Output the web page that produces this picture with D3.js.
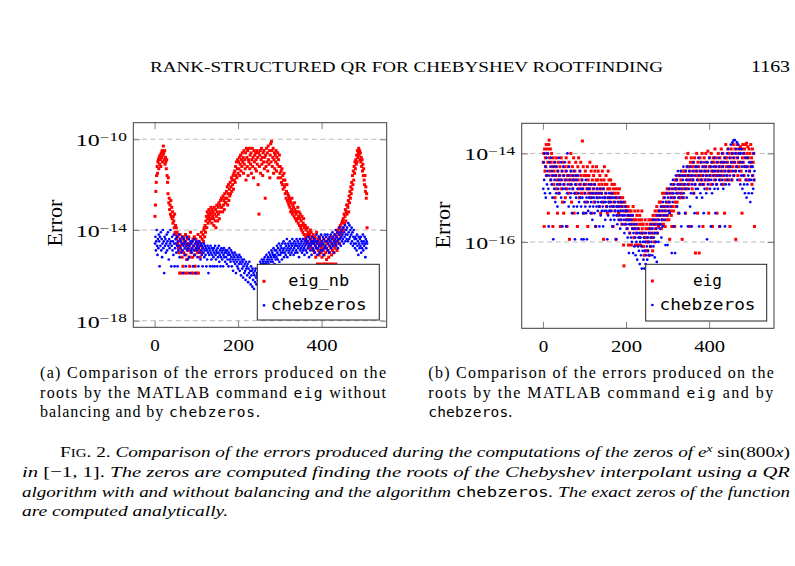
<!DOCTYPE html>
<html><head><meta charset="utf-8">
<script src="https://cdn.jsdelivr.net/npm/d3@7"></script>
<style>body{margin:0;background:#fff}svg{display:block}</style>
</head><body><svg id="c" width="795" height="566"></svg>
<script>
// ---- data (errors given as log10 exponents, index = root number 1..509) ----
const xTicks = [0, 200, 400];
const yTicksA = [-10, -14, -18];
const yTicksB = [-14, -16];
const legendA = ["eig_nb", "chebzeros"];
const legendB = ["eig", "chebzeros"];

const eigNb = [
-13.4,-12.9,-12.3,-11.9,-11.6,-11.2,-11.5,-11.0,-10.9,-11.3,
-10.8,-11.1,-10.7,-10.9,-11.2,-10.6,-10.8,-10.5,-11.0,-10.7,
-10.3,-10.6,-10.9,-10.5,-11.1,-10.8,-11.0,-11.3,-10.9,-11.6,
-11.9,-12.4,-11.7,-12.8,-12.6,-13.1,-12.9,-13.3,-12.7,-13.4,
-13.0,-13.5,-13.2,-13.7,-13.4,-13.6,-13.9,-13.3,-14.1,-13.8,
-14.2,-13.9,-14.4,-14.1,-14.6,-14.3,-14.8,-15.0,-14.5,-15.9,
-14.2,-14.7,-15.9,-14.4,-14.9,-15.2,-14.6,-15.6,-14.3,-15.0,
-14.5,-15.9,-14.8,-14.2,-15.1,-14.6,-15.3,-14.4,-15.9,-14.7,
-14.9,-14.3,-15.2,-15.6,-14.6,-14.1,-15.0,-15.9,-14.8,-14.5,
-15.2,-14.4,-15.9,-14.7,-14.3,-15.1,-15.6,-14.9,-14.4,-15.9,
-14.6,-14.8,-15.0,-14.2,-15.9,-14.5,-14.9,-14.7,-15.2,-14.3,
-14.6,-14.1,-15.0,-14.4,-14.8,-14.2,-14.5,-14.0,-13.9,-14.3,
-13.8,-14.1,-13.6,-13.4,-13.9,-13.2,-13.5,-13.7,-13.3,-13.1,
-13.4,-13.6,-13.2,-13.5,-13.0,-13.3,-13.7,-13.1,-13.4,-13.2,
-13.5,-13.8,-13.0,-13.3,-13.6,-13.1,-13.9,-13.4,-12.9,-13.2,
-13.6,-13.0,-13.3,-12.8,-13.5,-12.9,-13.2,-12.7,-13.0,-12.6,
-13.0,-12.6,-13.2,-12.5,-12.9,-12.7,-13.1,-12.4,-12.8,-12.6,
-12.8,-12.3,-12.6,-12.1,-12.9,-12.4,-12.0,-12.7,-12.2,-12.5,
-11.9,-12.4,-12.1,-11.7,-12.3,-11.8,-12.0,-11.6,-12.2,-11.5,
-11.8,-11.4,-11.9,-11.2,-11.6,-11.0,-11.7,-11.3,-10.9,-11.5,
-11.0,-11.3,-10.8,-11.6,-11.1,-10.7,-11.4,-10.9,-11.2,-10.6,
-11.0,-10.8,-11.5,-10.5,-11.1,-10.9,-11.3,-10.6,-11.8,-10.4,
-10.8,-11.2,-10.5,-11.6,-10.9,-11.0,-10.4,-11.3,-10.7,-11.1,
-10.6,-11.5,-10.9,-10.4,-11.2,-10.8,-11.7,-10.5,-11.0,-10.7,
-11.3,-10.6,-10.9,-11.4,-10.5,-11.1,-10.8,-12.0,-10.6,-13.3,
-11.2,-10.7,-10.5,-11.5,-10.9,-10.4,-11.1,-10.8,-11.6,-10.6,
-11.0,-10.5,-11.3,-10.8,-12.6,-10.7,-11.2,-10.4,-11.0,-10.6,
-11.4,-10.3,-10.9,-11.1,-10.5,-11.7,-10.7,-10.2,-11.0,-10.1,
-10.5,-11.2,-10.8,-10.4,-11.5,-10.9,-10.6,-11.3,-10.7,-11.0,
-10.5,-11.4,-10.8,-11.1,-10.6,-11.7,-10.9,-11.2,-10.7,-11.5,
-11.2,-11.7,-11.4,-11.9,-11.3,-12.0,-11.6,-12.2,-11.8,-11.5,
-12.1,-11.8,-12.4,-12.0,-12.6,-12.3,-12.0,-12.7,-12.4,-12.8,
-12.5,-12.9,-12.6,-13.0,-12.7,-13.2,-12.8,-13.1,-12.6,-13.3,
-12.9,-13.2,-13.0,-13.4,-12.8,-13.1,-13.5,-13.2,-13.3,-13.6,
-13.2,-13.5,-13.0,-13.7,-13.4,-13.2,-13.8,-13.5,-13.3,-13.9,
-13.6,-14.0,-13.4,-13.8,-14.1,-13.7,-13.5,-14.2,-13.9,-14.4,
-13.8,-14.3,-14.0,-14.6,-14.2,-13.9,-14.5,-14.1,-14.8,-14.3,
-14.2,-14.6,-14.0,-14.4,-14.1,-14.8,-14.3,-14.5,-14.9,-14.2,
-14.6,-14.4,-15.0,-14.3,-14.7,-15.2,-14.5,-14.1,-14.8,-15.5,
-14.4,-14.9,-14.6,-15.1,-14.3,-15.5,-14.7,-14.5,-15.0,-14.8,
-15.2,-14.6,-15.5,-14.9,-14.4,-15.1,-14.7,-15.5,-14.5,-15.0,
-14.8,-15.3,-14.6,-15.5,-14.9,-14.4,-15.2,-14.7,-15.0,-14.5,
-15.5,-14.8,-14.3,-15.1,-14.6,-14.9,-15.5,-14.4,-14.7,-15.0,
-14.5,-14.8,-14.2,-15.5,-14.6,-14.3,-14.9,-14.1,-14.5,-14.0,
-14.4,-13.9,-14.6,-14.2,-13.8,-14.3,-14.0,-13.7,-14.1,-13.6,
-13.9,-13.5,-14.0,-13.3,-13.7,-13.4,-13.1,-13.6,-13.2,-12.9,
-13.3,-12.9,-13.0,-12.7,-13.2,-12.5,-12.8,-12.3,-12.6,-12.1,
-12.4,-11.9,-12.2,-11.6,-12.0,-11.4,-11.8,-11.2,-11.5,-11.0,
-11.3,-10.9,-11.1,-10.7,-11.0,-10.5,-10.8,-10.6,-10.4,-10.7,
-10.5,-10.9,-10.6,-11.0,-10.8,-11.2,-10.9,-11.4,-11.1,-11.6,
-11.3,-11.8,-12.0,-11.6,-12.3,-12.1,-12.6,-12.4,-13.9];

const chebA = [
-14.6,-14.3,-14.9,-14.5,-14.0,-14.7,-15.1,-14.4,-14.8,-14.2,
-14.5,-15.6,-14.3,-14.7,-14.1,-14.9,-14.4,-15.2,-14.6,-14.0,
-14.8,-14.5,-15.9,-14.3,-14.7,-14.4,-15.0,-14.6,-14.2,-14.9,
-14.5,-14.1,-14.7,-15.3,-14.4,-14.8,-14.6,-14.0,-14.5,-15.6,
-14.7,-14.3,-14.9,-14.5,-15.1,-14.2,-14.6,-15.6,-14.8,-14.4,
-14.6,-15.0,-14.3,-14.7,-15.6,-14.5,-14.9,-14.2,-14.7,-15.2,
-14.4,-14.8,-14.5,-15.0,-14.6,-14.3,-14.9,-15.9,-14.7,-14.4,
-14.6,-15.1,-14.8,-14.5,-15.6,-14.7,-14.3,-14.9,-15.3,-14.6,
-14.8,-14.4,-15.2,-14.7,-15.9,-14.5,-14.9,-14.6,-15.0,-14.8,
-14.5,-15.6,-14.7,-14.9,-14.4,-15.1,-14.6,-15.9,-14.8,-14.5,
-14.9,-14.7,-15.2,-14.6,-15.6,-14.8,-14.5,-15.0,-14.7,-15.3,
-14.6,-14.9,-15.1,-14.7,-15.6,-14.8,-15.0,-14.6,-15.2,-14.9,
-14.7,-15.1,-14.8,-15.6,-14.9,-15.3,-14.7,-15.0,-15.9,-14.8,
-15.1,-14.9,-15.6,-14.7,-15.0,-15.3,-14.8,-15.1,-15.6,-14.9,
-15.2,-14.8,-15.0,-15.6,-14.7,-15.1,-15.3,-14.9,-15.0,-15.6,
-14.8,-15.2,-15.0,-14.7,-15.4,-15.1,-14.9,-15.6,-15.2,-14.8,
-15.0,-15.3,-14.9,-15.6,-15.1,-14.8,-15.2,-15.0,-15.4,-14.9,
-15.2,-15.0,-15.5,-14.9,-15.3,-15.1,-15.6,-15.0,-14.8,-15.3,
-15.1,-15.4,-14.9,-15.2,-15.6,-15.0,-15.3,-15.8,-15.1,-15.4,
-15.2,-15.0,-15.5,-15.3,-15.9,-15.1,-15.4,-15.6,-15.2,-15.7,
-15.3,-15.5,-15.1,-15.8,-15.4,-15.2,-16.0,-15.5,-15.3,-15.7,
-15.4,-16.1,-15.6,-15.3,-15.9,-15.5,-15.8,-16.2,-15.4,-15.7,
-15.6,-16.0,-15.5,-16.3,-15.7,-15.9,-15.4,-16.1,-15.8,-16.4,
-15.6,-16.0,-15.8,-16.5,-15.7,-16.2,-15.9,-16.6,-16.0,-15.8,
-16.3,-15.7,-16.1,-16.4,-15.9,-16.0,-16.2,-15.8,-16.1,-15.9,
-15.6,-15.8,-15.4,-15.7,-15.5,-15.9,-15.3,-15.6,-15.5,-15.4,
-15.6,-15.3,-15.5,-15.2,-15.7,-15.4,-15.5,-15.1,-15.6,-15.3,
-15.4,-15.2,-15.5,-15.0,-15.3,-15.6,-15.1,-15.4,-15.2,-14.9,
-15.3,-15.0,-15.4,-15.1,-14.8,-15.2,-15.5,-14.9,-15.1,-15.3,
-14.9,-15.2,-14.7,-15.0,-15.3,-14.8,-15.1,-14.6,-15.4,-14.9,
-15.1,-14.7,-15.0,-14.8,-15.3,-14.6,-15.0,-14.9,-14.5,-15.2,
-14.8,-15.0,-14.6,-15.1,-14.7,-14.9,-14.4,-15.2,-14.8,-14.6,
-15.0,-14.7,-14.9,-14.5,-15.1,-14.8,-14.6,-15.0,-14.7,-14.4,
-14.9,-14.6,-15.1,-14.8,-14.5,-14.7,-15.0,-14.6,-14.9,-14.4,
-14.7,-15.0,-14.5,-14.8,-14.6,-15.2,-14.7,-14.4,-14.9,-14.6,
-14.8,-14.5,-15.0,-14.7,-14.4,-14.9,-14.6,-14.8,-15.1,-14.5,
-14.7,-14.9,-14.4,-14.6,-15.0,-14.5,-14.8,-14.3,-14.7,-15.2,
-14.6,-14.4,-14.9,-14.7,-14.5,-15.1,-14.6,-14.3,-14.8,-14.5,
-14.9,-14.6,-14.4,-15.0,-14.7,-14.5,-14.8,-14.2,-14.6,-15.1,
-14.5,-14.8,-14.3,-14.7,-15.0,-14.4,-14.6,-14.9,-14.2,-14.7,
-14.5,-14.9,-14.3,-14.6,-15.1,-14.4,-14.8,-14.2,-14.7,-14.5,
-14.3,-14.8,-14.5,-14.2,-14.9,-14.6,-14.4,-15.0,-14.3,-14.7,
-14.5,-14.2,-14.8,-14.4,-14.6,-14.1,-14.7,-14.3,-15.0,-14.5,
-14.2,-14.6,-14.4,-14.0,-14.7,-14.3,-14.5,-14.1,-14.8,-14.4,
-14.2,-14.6,-13.9,-14.4,-14.1,-14.7,-14.3,-14.0,-14.5,-14.2,
-14.4,-13.9,-14.6,-14.1,-14.3,-13.8,-14.5,-14.2,-14.0,-14.4,
-13.9,-14.2,-14.5,-13.7,-14.1,-14.4,-13.8,-14.3,-14.0,-14.6,
-14.2,-13.9,-14.5,-14.1,-14.7,-14.3,-14.0,-14.6,-14.4,-14.8,
-14.3,-14.6,-14.4,-14.9,-14.2,-14.7,-14.5,-15.1,-14.3,-14.6,
-14.8,-14.4,-14.7,-14.3,-15.0,-14.5,-14.8,-14.6,-14.2,-14.9,
-14.5,-14.7,-14.3,-14.6,-15.2,-14.4,-14.8,-14.5,-14.6];

const eig = [
-14.2,-14.0,-15.65,-13.9,-14.4,-14.1,-14.3,-13.8,-14.5,-14.0,
-13.9,-14.2,-15.35,-13.8,-13.7,-14.1,-14.4,-13.9,-14.6,-14.2,
-14.0,-14.5,-14.3,-15.65,-14.1,-14.7,-14.4,-14.2,-15.0,-14.5,
-14.3,-14.8,-14.1,-14.6,-15.35,-14.4,-14.2,-14.9,-14.5,-14.7,
-14.3,-15.65,-14.6,-14.1,-14.8,-14.4,-15.1,-14.2,-14.5,-15.35,
-14.7,-14.3,-14.6,-15.0,-14.4,-14.1,-14.8,-15.65,-14.5,-14.3,
-14.6,-14.9,-14.2,-15.94,-14.5,-14.7,-14.0,-14.4,-15.1,-14.6,
-14.3,-14.8,-14.5,-14.1,-15.35,-14.6,-14.4,-14.9,-14.2,-14.7,
-14.5,-14.9,-15.65,-14.3,-14.6,-14.1,-14.8,-15.0,-14.4,-14.7,
-14.2,-14.5,-14.9,-14.6,-13.72,-14.8,-14.3,-15.35,-14.7,-14.5,
-14.9,-14.4,-14.7,-15.1,-14.5,-14.8,-14.3,-15.65,-14.6,-14.9,
-14.5,-14.8,-14.2,-15.0,-14.7,-14.4,-15.35,-14.9,-14.6,-14.3,
-14.8,-14.5,-15.1,-14.7,-14.4,-14.9,-15.65,-14.6,-14.3,-14.8,
-15.0,-14.6,-14.4,-14.9,-14.7,-15.2,-14.5,-14.8,-15.35,-14.6,
-14.9,-14.7,-14.4,-15.1,-14.8,-15.94,-14.6,-14.3,-15.0,-14.7,
-14.9,-14.5,-15.2,-14.7,-15.35,-14.8,-14.4,-15.0,-14.6,-15.1,
-14.8,-15.3,-14.6,-14.9,-15.0,-14.7,-15.2,-14.9,-15.65,-14.8,
-15.1,-14.7,-15.3,-14.9,-15.0,-15.94,-14.8,-15.2,-15.0,-15.4,
-14.9,-15.35,-15.1,-14.8,-15.2,-15.5,-15.0,-15.3,-15.1,-15.6,
-15.2,-15.0,-15.4,-16.07,-16.54,-15.3,-15.1,-15.6,-15.3,-15.2,
-15.5,-15.3,-15.7,-15.4,-15.2,-16.07,-15.5,-15.3,-15.8,-15.4,
-15.6,-15.3,-16.07,-15.5,-15.4,-15.7,-15.2,-15.6,-15.9,-15.5,
-15.3,-15.7,-16.07,-15.5,-15.8,-15.4,-15.6,-16.07,-15.3,-15.7,
-15.5,-15.9,-15.4,-15.6,-16.07,-15.8,-15.5,-15.3,-15.7,-15.6,
-15.6,-16.1,-15.8,-16.3,-15.9,-15.5,-16.2,-15.7,-16.0,-15.6,
-15.9,-16.2,-15.7,-16.0,-15.5,-16.3,-15.8,-15.6,-16.1,-15.7,
-15.5,-15.9,-15.6,-16.2,-15.4,-15.8,-15.5,-16.0,-15.6,-15.3,
-15.7,-15.4,-15.6,-15.2,-15.8,-15.5,-15.3,-15.65,-15.4,-15.1,
-15.3,-15.6,-15.1,-15.4,-15.7,-15.2,-15.5,-14.9,-15.3,-15.6,
-15.0,-15.4,-15.2,-15.65,-14.9,-15.3,-15.5,-15.1,-14.8,-15.4,
-15.2,-14.9,-15.5,-15.1,-15.94,-14.8,-15.3,-15.0,-15.4,-15.65,
-14.9,-15.2,-14.7,-15.3,-15.0,-14.8,-15.65,-15.1,-14.6,-15.2,
-14.8,-14.6,-15.1,-14.9,-14.5,-15.35,-14.7,-15.0,-14.5,-14.8,
-15.0,-14.6,-14.4,-14.9,-15.94,-14.7,-14.5,-15.0,-14.8,-14.4,
-14.7,-14.4,-15.35,-14.5,-14.1,-14.8,-14.3,-14.6,-14.0,-14.5,
-14.3,-14.7,-14.4,-15.65,-14.2,-14.6,-14.1,-14.5,-14.8,-14.3,
-14.6,-14.2,-14.9,-14.4,-14.1,-14.7,-16.25,-14.3,-14.5,-14.0,
-14.4,-15.35,-14.2,-14.6,-14.3,-16.25,-14.5,-14.1,-14.7,-14.4,
-14.2,-14.6,-14.0,-14.5,-15.65,-14.3,-14.7,-14.1,-14.4,-14.6,
-14.3,-14.0,-14.5,-14.2,-14.8,-14.4,-13.95,-14.6,-15.35,-14.3,
-14.1,-14.5,-14.3,-14.7,-14.0,-14.4,-14.2,-15.65,-14.5,-14.1,
-14.4,-14.2,-14.6,-13.9,-14.3,-14.5,-14.1,-14.7,-15.35,-14.4,
-14.2,-14.0,-14.5,-14.3,-15.65,-14.1,-14.6,-14.4,-13.9,-14.2,
-14.5,-14.3,-14.0,-14.7,-14.2,-14.4,-15.35,-14.1,-14.6,-13.8,
-14.3,-14.1,-14.5,-14.2,-13.9,-14.4,-14.6,-14.0,-14.3,-15.65,
-14.1,-14.4,-13.9,-14.2,-14.6,-14.0,-14.3,-13.8,-14.5,-14.1,
-14.2,-13.9,-14.4,-15.94,-14.0,-14.3,-13.8,-14.1,-14.5,-14.2,
-13.9,-14.3,-14.0,-14.6,-13.85,-14.2,-14.4,-13.9,-15.35,-14.1,
-13.8,-14.2,-14.0,-14.5,-13.9,-14.3,-13.8,-14.1,-14.6,-13.77,
-14.0,-14.3,-13.85,-14.1,-14.6,-13.9,-14.4,-14.0,-14.2,-13.8,
-14.3,-14.1,-14.7,-13.9,-14.5,-14.2,-14.0,-14.6,-15.65];

const chebB = [
-14.8,-14.2,-14.6,-14.0,-14.9,-14.3,-15.0,-14.5,-14.1,-14.7,
-14.4,-14.0,-14.8,-15.65,-14.5,-14.2,-14.9,-14.3,-14.6,-14.1,
-14.7,-14.4,-15.0,-14.5,-15.94,-14.3,-14.8,-14.6,-14.2,-15.1,
-14.5,-14.9,-14.3,-14.7,-15.2,-14.4,-14.8,-14.6,-14.1,-14.9,
-14.5,-14.7,-14.2,-15.0,-14.6,-14.4,-15.65,-14.8,-14.3,-14.7,
-14.5,-15.1,-14.2,-14.8,-14.6,-15.65,-14.4,-14.9,-14.0,-14.7,
-14.5,-15.2,-14.3,-14.8,-14.6,-15.0,-14.4,-14.9,-14.7,-15.35,
-14.5,-14.8,-14.6,-15.2,-14.4,-14.9,-15.94,-14.7,-14.5,-15.0,
-14.6,-15.2,-14.8,-15.35,-14.5,-14.9,-15.1,-14.7,-14.4,-15.0,
-14.8,-15.2,-15.94,-14.6,-15.0,-14.8,-15.35,-15.94,-14.7,-15.1,
-14.9,-15.2,-14.6,-15.35,-15.0,-15.94,-14.8,-15.1,-15.3,-14.7,
-15.0,-14.8,-15.2,-14.9,-15.35,-15.1,-14.7,-15.0,-15.5,-14.9,
-15.2,-14.8,-15.0,-15.35,-14.7,-15.1,-15.65,-14.9,-15.2,-15.0,
-14.8,-15.3,-15.1,-14.9,-15.2,-15.65,-15.0,-14.8,-15.4,-15.1,
-14.9,-15.3,-15.0,-15.2,-15.65,-14.8,-15.1,-15.3,-15.0,-15.5,
-15.1,-14.9,-15.3,-15.2,-15.94,-15.0,-15.4,-15.1,-14.9,-15.3,
-15.2,-15.0,-15.5,-15.1,-15.3,-14.9,-15.65,-15.2,-15.0,-15.4,
-15.2,-15.5,-15.1,-15.3,-15.0,-15.94,-15.4,-15.2,-15.6,-15.1,
-15.3,-15.5,-15.2,-15.0,-15.4,-15.7,-15.3,-15.1,-15.5,-15.2,
-15.4,-15.6,-15.3,-15.1,-15.5,-15.8,-15.4,-15.2,-15.6,-15.3,
-15.5,-15.7,-15.3,-15.9,-15.4,-15.6,-16.25,-15.5,-15.8,-15.4,
-15.6,-15.9,-15.5,-16.0,-15.7,-15.4,-16.25,-15.8,-15.6,-16.1,
-15.7,-15.9,-16.3,-15.6,-16.0,-15.8,-16.4,-15.7,-16.1,-15.9,
-16.2,-15.8,-16.5,-16.0,-15.9,-16.3,-16.1,-16.6,-15.8,-16.2,
-16.0,-16.4,-15.9,-16.6,-16.2,-16.0,-16.5,-15.8,-16.3,-16.1,
-16.4,-15.9,-16.2,-16.0,-15.8,-16.3,-15.7,-16.1,-15.9,-15.6,
-16.0,-15.8,-16.3,-15.7,-15.5,-16.1,-15.9,-15.6,-16.35,-15.8,
-15.5,-16.0,-15.7,-16.45,-15.4,-15.8,-15.6,-16.0,-15.5,-15.3,
-15.7,-15.4,-15.6,-15.2,-15.9,-15.5,-15.3,-15.65,-15.1,-15.4,
-15.2,-15.5,-15.0,-15.3,-16.07,-15.1,-15.4,-14.9,-15.2,-16.07,
-15.0,-15.3,-14.8,-15.1,-15.35,-14.9,-15.2,-14.7,-15.0,-16.25,
-14.8,-15.1,-14.6,-14.9,-15.65,-14.7,-15.0,-16.25,-14.8,-14.5,
-14.9,-14.6,-15.2,-14.7,-14.4,-15.0,-14.8,-15.35,-14.5,-14.9,
-14.7,-14.4,-15.65,-14.8,-14.5,-15.0,-14.6,-14.3,-14.9,-14.7,
-14.5,-15.35,-14.8,-14.4,-14.6,-15.0,-14.3,-14.7,-15.65,-14.5,
-14.8,-14.4,-14.6,-15.2,-14.3,-14.9,-14.5,-15.65,-14.7,-14.4,
-14.6,-14.2,-14.9,-14.5,-15.35,-14.7,-14.3,-14.8,-14.4,-15.0,
-14.6,-14.3,-14.8,-14.1,-14.5,-15.65,-14.7,-14.4,-14.9,-14.2,
-14.6,-14.4,-15.0,-14.3,-14.7,-14.5,-15.35,-14.2,-14.8,-14.4,
-14.6,-14.3,-14.9,-14.5,-15.94,-14.2,-14.7,-14.4,-14.6,-14.1,
-14.5,-14.8,-14.3,-15.65,-14.6,-14.2,-14.9,-14.4,-14.7,-14.3,
-14.5,-14.1,-14.8,-14.4,-15.35,-14.6,-14.3,-14.7,-14.2,-14.5,
-14.8,-14.4,-14.1,-14.6,-14.3,-15.65,-14.5,-14.2,-14.7,-14.4,
-14.0,-14.6,-14.3,-14.8,-14.2,-14.5,-14.1,-15.65,-14.4,-14.7,
-14.2,-14.5,-14.0,-14.6,-14.3,-13.9,-14.4,-14.7,-14.1,-14.5,
-14.3,-13.8,-14.2,-14.6,-14.0,-13.75,-14.4,-14.1,-13.7,-14.5,
-14.2,-13.7,-14.0,-14.4,-13.9,-14.3,-13.75,-14.6,-14.1,-13.8,
-14.0,-14.4,-13.9,-14.2,-14.7,-14.0,-14.5,-13.9,-14.3,-14.8,
-14.2,-14.5,-14.0,-14.7,-14.3,-14.9,-14.1,-14.6,-14.4,-15.0,
-14.3,-14.7,-14.1,-14.5,-14.9,-14.2,-14.6,-14.4,-15.1,-14.3,
-14.6,-14.2,-14.9,-14.5,-14.3,-14.8,-14.0,-14.6,-14.4];

// ---- drawing ----
const svg = d3.select('#c');
const SERIF = "'Liberation Serif','Times New Roman',serif";
const MONO = "'DejaVu Sans Mono','Liberation Mono',monospace";
const xDomain = [-51, 556];

function panel(o) {
  const x = d3.scaleLinear().domain(xDomain).range([o.l, o.r]);
  const y = d3.scaleLog().domain([Math.pow(10, o.yMin), Math.pow(10, o.yMax)]).range([o.b, o.t]);
  const g = svg.append('g');
  const clipId = 'clip' + o.id;
  g.append('clipPath').attr('id', clipId).append('rect')
    .attr('x', o.l).attr('y', o.t).attr('width', o.r - o.l).attr('height', o.b - o.t);

  g.append('g').selectAll('line').data(o.yTicks).join('line')
    .attr('x1', o.l).attr('x2', o.r)
    .attr('y1', d => y(Math.pow(10, d))).attr('y2', d => y(Math.pow(10, d)))
    .attr('stroke', '#b8b8b8').attr('stroke-width', 1).attr('stroke-dasharray', '5,3.5');

  const pts = g.append('g').attr('clip-path', `url(#${clipId})`);
  pts.append('g').selectAll('rect').data(o.red).join('rect')
    .attr('x', (d, i) => x(i + 1) - 1.5).attr('y', d => y(Math.pow(10, d)) - 1.5)
    .attr('width', 3).attr('height', 3).attr('fill', '#ff0000');
  pts.append('g').selectAll('circle').data(o.blue).join('circle')
    .attr('cx', (d, i) => x(i + 1)).attr('cy', d => y(Math.pow(10, d)))
    .attr('r', 1.35).attr('fill', '#0000ff');

  const tickStyle = s => { s.select('.domain').remove(); s.selectAll('.tick line').attr('stroke', '#808080'); s.attr('font-family', null).attr('font-size', null); };
  const yv = o.yTicks.map(t => Math.pow(10, t));
  g.append('g').attr('transform', `translate(0,${o.b})`)
    .call(d3.axisBottom(x).tickValues(xTicks).tickSizeInner(-6.5).tickSizeOuter(0).tickPadding(11.5).tickFormat(d3.format('d')))
    .call(tickStyle)
    .call(s => s.selectAll('text').attr('fill', '#000').style('font-family', SERIF).style('font-size', '16.7px')
      .attr('textLength', d => d >= 100 ? 31 : 9.5).attr('lengthAdjust', 'spacingAndGlyphs'));
  g.append('g').attr('transform', `translate(0,${o.t})`)
    .call(d3.axisTop(x).tickValues(xTicks).tickSizeInner(-6.5).tickSizeOuter(0).tickFormat(''))
    .call(tickStyle);
  const la = g.append('g').attr('transform', `translate(${o.l},0)`)
    .call(d3.axisLeft(y).tickValues(yv).tickSizeInner(-6.5).tickSizeOuter(0).tickFormat(''))
    .call(tickStyle);
  g.append('g').attr('transform', `translate(${o.r},0)`)
    .call(d3.axisRight(y).tickValues(yv).tickSizeInner(-6.5).tickSizeOuter(0).tickFormat(''))
    .call(tickStyle);
  la.selectAll('.tick').each(function(d) {
    const e = Math.round(Math.log10(d));
    const t = d3.select(this).append('text')
      .attr('x', -6.5).attr('y', 6.3).attr('text-anchor', 'end').attr('fill', '#000')
      .style('font-family', SERIF)
      .attr('textLength', 51).attr('lengthAdjust', 'spacingAndGlyphs');
    t.append('tspan').style('font-size', '16.7px').text('10');
    t.append('tspan').attr('dy', -5.2).style('font-size', '12px').text('\u2212' + Math.abs(e));
  });

  g.append('rect').attr('x', o.l).attr('y', o.t).attr('width', o.r - o.l).attr('height', o.b - o.t)
    .attr('fill', 'none').attr('stroke', '#3c3c3c').attr('stroke-width', 1);

  g.append('text').attr('transform', `translate(${o.ylx},${o.yly}) rotate(-90)`)
    .attr('text-anchor', 'middle').style('font-family', SERIF).style('font-size', '20px')
    .attr('textLength', 47).attr('lengthAdjust', 'spacingAndGlyphs').text('Error');

  const L = o.leg;
  g.append('rect').attr('x', L.x0).attr('y', L.y0).attr('width', L.x1 - L.x0).attr('height', L.y1 - L.y0)
    .attr('fill', '#fff').attr('stroke', '#222').attr('stroke-width', 1);
  g.append('rect').attr('x', L.x0 + 5.2).attr('y', L.r1 - 1.5).attr('width', 3).attr('height', 3).attr('fill', '#ff0000');
  g.append('circle').attr('cx', L.x0 + 6.7).attr('cy', L.r2).attr('r', 1.35).attr('fill', '#0000ff');
  g.append('text').attr('x', L.tx).attr('y', L.r1 + 5).attr('text-anchor', 'middle')
    .style('font-family', MONO).style('font-size', '16px')
    .attr('textLength', L.w1).attr('lengthAdjust', 'spacingAndGlyphs').text(o.labels[0]);
  g.append('text').attr('x', L.tx).attr('y', L.r2 + 4.5).attr('text-anchor', 'middle')
    .style('font-family', MONO).style('font-size', '16px')
    .attr('textLength', 96).attr('lengthAdjust', 'spacingAndGlyphs').text(o.labels[1]);
}

panel({id: 'a', l: 133.3, r: 386.7, t: 122.7, b: 327.3, yMin: -18.29, yMax: -9.27, yTicks: yTicksA,
  red: eigNb, blue: chebA, labels: legendA, ylx: 61.5, yly: 223,
  leg: {x0: 257.3, x1: 379.3, y0: 264.3, y1: 320, r1: 281.3, r2: 305.3, tx: 318.7, w1: 61}});
panel({id: 'b', l: 521.7, r: 774, t: 123.3, b: 328.3, yMin: -17.95, yMax: -13.32, yTicks: yTicksB,
  red: eig, blue: chebB, labels: legendB, ylx: 450, yly: 225,
  leg: {x0: 645.7, x1: 766.7, y0: 264.3, y1: 321, r1: 281, r2: 305, tx: 707.5, w1: 29}});

// ---- page text ----
function line(xp, yp, len, parts, size, adj) {
  const t = svg.append('text').attr('x', xp).attr('y', yp).style('font-family', SERIF)
    .style('font-size', size + 'px').attr('fill', '#000');
  if (len) t.attr('textLength', len).attr('lengthAdjust', adj || 'spacing');
  let shift = 0;
  parts.forEach(([txt, st]) => {
    const s = t.append('tspan').text(txt);
    if (st === 'i') s.style('font-style', 'italic');
    if (st === 't') s.style('font-family', MONO).style('font-size', (size - 1.5) + 'px');
    if (st === 'sc') s.style('font-size', (size * 0.78) + 'px');
    if (st === 'sup') { s.style('font-style', 'italic').style('font-size', (size * 0.7) + 'px').attr('dy', -5); shift = 5; }
    else if (shift) { s.attr('dy', shift); shift = 0; }
  });
  return t;
}
line(150, 72, 513, [['RANK-STRUCTURED QR FOR CHEBYSHEV ROOTFINDING', 'r']], 15.5, 'spacingAndGlyphs');
line(751, 72, 39, [['1163', 'r']], 16.5, 'spacingAndGlyphs');

line(40, 378, 346, [['(a) Comparison of the errors produced on the', 'r']], 16);
line(40, 397.5, 346, [['roots by the MATLAB command ', 'r'], ['eig', 't'], [' without', 'r']], 16);
line(40, 417, 220, [['balancing and by ', 'r'], ['chebzeros', 't'], ['.', 'r']], 16);

line(428.3, 378, 345.5, [['(b) Comparison of the errors produced on the', 'r']], 16);
line(428.3, 397.5, 345, [['roots by the MATLAB command ', 'r'], ['eig', 't'], [' and by', 'r']], 16);
line(428.3, 417, 84, [['chebzeros', 't'], ['.', 'r']], 16);

line(60, 457, 730, [['F', 'r'], ['IG', 'sc'], ['. 2.  ', 'r'],
  ['Comparison of the errors produced during the computations of the zeros of ', 'i'],
  ['e', 'i'], ['x', 'sup'], [' sin(800', 'r'], ['x', 'i'], [')', 'r']], 15.5, 'spacingAndGlyphs');
line(22, 477, 768, [['in ', 'i'], ['[\u22121, 1]', 'r'], ['.   ', 'r'],
  ['The zeros are computed finding the roots of the Chebyshev interpolant using a QR', 'i']], 15.5, 'spacingAndGlyphs');
line(22, 497, 768, [['algorithm with and without balancing and the algorithm ', 'i'], ['chebzeros', 't'],
  ['. The exact zeros of the function', 'i']], 15.5, 'spacingAndGlyphs');
line(22, 516, 206, [['are computed analytically.', 'i']], 15.5, 'spacingAndGlyphs');
</script></body></html>
